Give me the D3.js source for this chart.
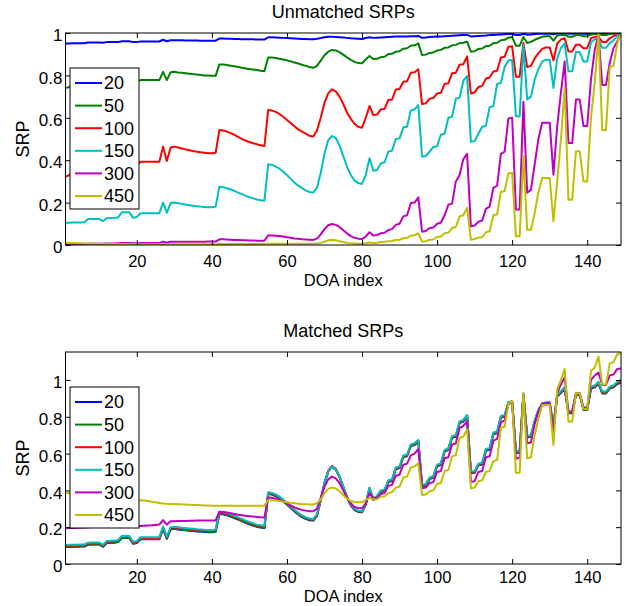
<!DOCTYPE html>
<html>
<head>
<meta charset="utf-8">
<script src="https://cdn.jsdelivr.net/npm/d3@7"></script>
<style>
  body { margin: 0; background: #fff; }
  svg { display: block; font-family: "Liberation Sans", Arial, Helvetica, sans-serif; }
</style>
</head>
<body>
<div id="chart"></div>
<script>
// DOA index runs 1..149
const doaIndex = d3.range(1, 150);
const seriesNames = ["20", "50", "100", "150", "300", "450"];
const seriesColors = ["#0000ff", "#008000", "#ff0000", "#00bfbf", "#bf00bf", "#bfbf00"];
const yTicks = [0, 0.2, 0.4, 0.6, 0.8, 1];
const xTicks = [20, 40, 60, 80, 100, 120, 140];

// ---- Unmatched SRPs ----
const unmatched20 = [
  .951,.951,.952,.952,.952,.952,.955,.955,.955,.955,
  .954,.957,.957,.957,.957,.961,.961,.961,.957,.957,
  .960,.960,.960,.960,.960,.960,.968,.961,.966,.966,
  .966,.966,.965,.965,.965,.965,.964,.964,.964,.964,
  .964,.974,.974,.973,.973,.972,.972,.971,.971,.970,
  .970,.969,.969,.969,.980,.980,.979,.978,.977,.976,
  .975,.974,.973,.972,.972,.971,.971,.973,.976,.980,
  .982,.982,.981,.980,.979,.977,.975,.974,.973,.972,
  .976,.980,.977,.978,.979,.980,.981,.982,.983,.983,
  .984,.984,.985,.985,.986,.977,.979,.981,.982,.983,
  .984,.985,.986,.987,.988,.989,.990,.991,.984,.985,
  .986,.987,.988,.990,.991,.992,.993,.994,.995,.995,
  .990,.990,.996,.992,.993,.995,.996,.997,.997,.997,
  .994,.998,.998,.999,.996,.996,.998,.998,.997,.997,
  .999,.999,.999,.997,.997,.999,.999,1,1
];
const unmatched50 = [
  .740,.745,.748,.750,.752,.754,.760,.761,.762,.763,
  .760,.765,.766,.767,.768,.778,.779,.778,.768,.770,
  .778,.778,.778,.778,.778,.778,.817,.778,.815,.817,
  .814,.812,.810,.808,.806,.804,.802,.800,.799,.798,
  .798,.852,.851,.849,.846,.843,.840,.836,.833,.830,
  .828,.825,.822,.820,.885,.884,.882,.879,.875,.871,
  .866,.861,.856,.850,.845,.840,.836,.845,.870,.895,
  .912,.920,.918,.910,.898,.885,.873,.864,.858,.857,
  .875,.892,.877,.878,.886,.888,.900,.902,.912,.914,
  .926,.928,.940,.942,.951,.896,.898,.906,.908,.918,
  .920,.930,.932,.942,.944,.952,.954,.959,.912,.914,
  .925,.927,.938,.940,.952,.954,.966,.968,.978,.981,
  .940,.940,.981,.953,.958,.968,.975,.982,.985,.985,
  .964,.988,.990,.992,.982,.982,.990,.990,.985,.985,
  .993,.995,.995,.990,.990,.995,.997,.999,1
];
const unmatched100 = [
  .322,.330,.335,.340,.345,.348,.358,.360,.362,.363,
  .358,.366,.368,.370,.372,.385,.386,.386,.372,.376,
  .393,.393,.393,.393,.393,.393,.464,.396,.460,.464,
  .460,.455,.451,.447,.443,.440,.437,.435,.433,.433,
  .435,.542,.540,.535,.528,.520,.510,.500,.492,.486,
  .480,.475,.470,.467,.637,.634,.628,.618,.605,.590,
  .575,.560,.545,.535,.525,.515,.512,.540,.600,.670,
  .715,.734,.725,.700,.665,.625,.595,.572,.558,.553,
  .600,.656,.613,.615,.640,.642,.684,.686,.734,.736,
  .770,.772,.813,.815,.829,.665,.668,.690,.693,.715,
  .718,.760,.763,.810,.813,.850,.853,.890,.715,.720,
  .745,.750,.785,.790,.818,.822,.885,.888,.935,.937,
  .794,.794,.953,.840,.845,.880,.905,.925,.932,.932,
  .870,.950,.970,.975,.913,.913,.945,.945,.928,.928,
  .975,.982,.982,.958,.958,.975,.985,.995,1
];
const unmatched150 = [
  .105,.105,.106,.106,.106,.107,.123,.123,.123,.123,
  .113,.126,.127,.128,.130,.154,.155,.154,.129,.132,
  .150,.150,.150,.150,.150,.150,.200,.152,.198,.200,
  .197,.194,.191,.188,.185,.183,.181,.179,.178,.178,
  .180,.275,.273,.268,.262,.255,.247,.240,.232,.225,
  .220,.215,.211,.209,.381,.378,.370,.360,.345,.330,
  .312,.295,.280,.268,.258,.250,.247,.270,.340,.430,
  .495,.514,.505,.470,.420,.370,.330,.305,.292,.288,
  .330,.409,.350,.354,.385,.390,.440,.445,.500,.503,
  .555,.558,.635,.640,.660,.417,.420,.440,.462,.466,
  .520,.525,.600,.605,.690,.695,.775,.797,.487,.490,
  .525,.558,.562,.650,.655,.760,.765,.840,.870,.873,
  .607,.607,.943,.686,.700,.780,.830,.865,.874,.874,
  .741,.880,.930,.951,.819,.819,.910,.910,.866,.866,
  .955,.970,.970,.930,.930,.951,.965,.985,1
];
const unmatched300 = [
  .003,.003,.004,.004,.004,.005,.006,.006,.006,.006,
  .006,.007,.007,.007,.008,.009,.009,.009,.008,.008,
  .010,.010,.010,.010,.010,.010,.016,.011,.015,.015,
  .015,.015,.015,.015,.015,.015,.015,.015,.016,.016,
  .016,.027,.027,.026,.025,.024,.024,.023,.022,.021,
  .021,.020,.020,.020,.046,.045,.044,.042,.040,.037,
  .034,.031,.029,.027,.026,.025,.024,.030,.050,.075,
  .093,.099,.095,.085,.070,.055,.042,.034,.030,.028,
  .040,.060,.045,.047,.055,.058,.070,.075,.095,.100,
  .135,.140,.198,.200,.225,.063,.066,.080,.082,.100,
  .105,.140,.190,.195,.300,.330,.405,.430,.088,.092,
  .110,.115,.170,.181,.270,.280,.430,.440,.597,.600,
  .168,.168,.676,.247,.260,.380,.500,.577,.577,.577,
  .332,.560,.720,.866,.481,.481,.686,.686,.561,.561,
  .780,.920,.990,.755,.755,.860,.928,.960,1
];
const unmatched450 = [
  .011,.010,.009,.008,.008,.007,.007,.007,.006,.006,
  .006,.006,.005,.005,.005,.005,.005,.005,.004,.004,
  .004,.004,.004,.004,.004,.004,.005,.004,.004,.004,
  .004,.004,.004,.004,.004,.004,.004,.004,.004,.004,
  .004,.005,.005,.005,.005,.005,.005,.005,.005,.005,
  .005,.005,.005,.005,.006,.006,.006,.006,.006,.006,
  .006,.006,.006,.006,.006,.006,.006,.007,.010,.016,
  .022,.024,.022,.018,.014,.010,.008,.007,.006,.006,
  .008,.012,.010,.011,.014,.015,.018,.019,.024,.025,
  .032,.034,.044,.046,.055,.017,.018,.025,.026,.038,
  .040,.055,.058,.080,.085,.135,.140,.175,.025,.028,
  .035,.036,.060,.065,.140,.145,.250,.255,.338,.340,
  .041,.041,.420,.072,.072,.150,.250,.316,.316,.316,
  .112,.300,.500,.740,.214,.214,.442,.442,.300,.300,
  .600,.763,.995,.542,.542,.840,.845,.950,1
];

// ---- Matched SRPs ----
const matched20 = [
  .092,.093,.094,.094,.095,.095,.105,.106,.106,.106,
  .094,.114,.115,.116,.119,.141,.142,.141,.110,.114,
  .134,.134,.134,.134,.134,.134,.191,.137,.188,.191,
  .188,.185,.183,.181,.179,.177,.176,.174,.173,.173,
  .175,.272,.270,.265,.258,.250,.241,.233,.224,.216,
  .209,.202,.198,.195,.380,.377,.369,.357,.341,.323,
  .304,.286,.269,.255,.245,.238,.236,.262,.345,.437,
  .503,.528,.513,.472,.416,.360,.319,.293,.283,.281,
  .322,.407,.348,.361,.391,.396,.446,.451,.516,.521,
  .581,.586,.641,.647,.665,.420,.426,.461,.469,.531,
  .538,.611,.620,.686,.692,.766,.774,.801,.493,.496,
  .536,.541,.616,.621,.706,.711,.796,.801,.871,.876,
  .605,.605,.919,.688,.691,.771,.831,.861,.870,.870,
  .746,.910,.930,.950,.819,.819,.918,.918,.837,.837,
  .954,.960,.980,.927,.927,.954,.960,.978,.985
];
const matched50 = [
  .094,.095,.096,.096,.097,.097,.107,.108,.108,.108,
  .096,.116,.117,.118,.121,.143,.144,.143,.112,.116,
  .136,.136,.136,.136,.136,.136,.193,.139,.190,.193,
  .190,.187,.185,.183,.181,.179,.178,.176,.175,.175,
  .177,.274,.272,.267,.260,.252,.243,.235,.226,.218,
  .211,.204,.200,.197,.382,.379,.371,.359,.343,.325,
  .306,.288,.271,.257,.247,.240,.238,.264,.347,.439,
  .505,.530,.515,.474,.418,.362,.321,.295,.285,.283,
  .324,.409,.350,.363,.393,.398,.448,.453,.518,.523,
  .583,.588,.643,.649,.667,.422,.428,.463,.471,.533,
  .540,.613,.622,.688,.694,.768,.776,.803,.495,.498,
  .538,.543,.618,.623,.708,.713,.798,.803,.873,.878,
  .607,.607,.921,.690,.693,.773,.833,.863,.872,.872,
  .748,.912,.932,.952,.821,.821,.920,.920,.839,.839,
  .956,.962,.982,.929,.929,.956,.962,.980,.987
];
const matched100 = [
  .099,.100,.101,.101,.102,.102,.112,.113,.113,.113,
  .100,.121,.122,.123,.126,.148,.149,.148,.117,.121,
  .141,.141,.141,.141,.141,.141,.199,.144,.196,.199,
  .196,.193,.191,.189,.187,.185,.184,.182,.181,.181,
  .183,.280,.278,.273,.266,.258,.249,.241,.232,.224,
  .217,.210,.206,.203,.387,.383,.375,.363,.347,.329,
  .310,.292,.275,.261,.251,.244,.242,.268,.349,.441,
  .507,.532,.517,.476,.420,.364,.323,.297,.287,.285,
  .327,.413,.354,.367,.397,.402,.452,.457,.522,.527,
  .587,.592,.647,.653,.671,.426,.432,.467,.475,.537,
  .544,.617,.626,.692,.698,.772,.780,.807,.499,.502,
  .542,.547,.622,.627,.712,.717,.802,.807,.877,.882,
  .611,.611,.925,.694,.697,.777,.837,.867,.877,.877,
  .752,.916,.936,.956,.825,.825,.924,.924,.843,.843,
  .960,.966,.986,.933,.933,.960,.966,.984,.992
];
const matched150 = [
  .103,.104,.105,.105,.106,.106,.116,.117,.117,.117,
  .104,.125,.126,.127,.130,.152,.153,.152,.121,.125,
  .145,.145,.145,.145,.145,.145,.203,.148,.200,.203,
  .200,.197,.195,.193,.191,.189,.188,.186,.185,.185,
  .187,.284,.282,.277,.270,.262,.253,.245,.236,.228,
  .221,.214,.210,.207,.390,.386,.378,.366,.350,.332,
  .313,.295,.278,.264,.254,.247,.245,.270,.350,.440,
  .505,.529,.515,.475,.420,.365,.325,.300,.290,.288,
  .330,.415,.357,.370,.400,.405,.455,.460,.525,.530,
  .590,.595,.650,.656,.674,.429,.435,.470,.478,.540,
  .547,.620,.629,.695,.701,.775,.783,.810,.502,.505,
  .545,.550,.625,.630,.715,.720,.805,.810,.880,.885,
  .614,.614,.928,.697,.700,.780,.840,.870,.879,.879,
  .755,.920,.940,.960,.828,.828,.928,.928,.846,.846,
  .964,.970,.990,.937,.937,.964,.970,.990,1
];
const matched300 = [
  .194,.195,.196,.197,.198,.199,.200,.201,.202,.203,
  .203,.204,.205,.205,.206,.207,.207,.207,.206,.206,
  .207,.208,.209,.210,.212,.214,.239,.214,.232,.232,
  .233,.234,.234,.235,.235,.236,.236,.236,.237,.237,
  .237,.284,.283,.280,.276,.272,.268,.265,.262,.260,
  .258,.256,.254,.253,.362,.360,.355,.348,.340,.330,
  .318,.308,.300,.294,.290,.287,.287,.300,.360,.420,
  .460,.475,.465,.440,.400,.360,.330,.310,.304,.303,
  .330,.385,.355,.360,.380,.385,.425,.430,.480,.485,
  .540,.545,.590,.600,.625,.411,.415,.440,.445,.500,
  .505,.575,.580,.650,.655,.740,.750,.775,.447,.450,
  .500,.505,.580,.585,.670,.680,.770,.780,.870,.885,
  .574,.574,.918,.656,.660,.760,.830,.873,.873,.873,
  .723,.930,.976,1.015,.828,.828,.928,.928,.850,.850,
  1.000,1.024,1.040,.973,.973,1.025,1.030,1.060,1.063
];
const matched450 = [
  .388,.386,.383,.380,.377,.374,.371,.368,.365,.362,
  .360,.358,.356,.354,.352,.351,.350,.349,.348,.348,
  .347,.345,.342,.338,.335,.332,.329,.327,.326,.326,
  .325,.324,.323,.322,.321,.320,.319,.318,.318,.317,
  .317,.317,.317,.317,.317,.317,.317,.317,.317,.317,
  .317,.317,.317,.317,.348,.347,.345,.342,.339,.336,
  .333,.330,.328,.326,.325,.324,.324,.330,.350,.385,
  .408,.415,.410,.395,.375,.355,.342,.337,.335,.335,
  .348,.360,.350,.352,.365,.368,.385,.390,.415,.420,
  .470,.475,.525,.530,.547,.375,.378,.395,.400,.435,
  .440,.505,.511,.585,.592,.685,.692,.732,.411,.415,
  .450,.455,.500,.505,.560,.565,.740,.746,.870,.886,
  .496,.496,.928,.574,.580,.700,.790,.864,.864,.864,
  .647,.950,1.000,1.060,.774,.774,.928,.928,.841,.841,
  1.050,1.067,1.127,.976,.976,1.090,1.096,1.140,1.145
];

const width = 635, height = 606;
const svg = d3.select("#chart").append("svg")
  .attr("width", width)
  .attr("height", height);

const x = d3.scaleLinear().domain([1, 149]).range([65.5, 621]);

function drawPanel(opts) {
  const top = opts.top, bottom = opts.top + 212;
  const left = x.range()[0], right = x.range()[1];
  const y = d3.scaleLinear().domain([0, opts.yMax]).range([bottom, top]);
  const g = svg.append("g");

  // clip so nothing leaks over the box
  const clipId = "clip" + opts.id;
  g.append("clipPath").attr("id", clipId)
    .append("rect")
    .attr("x", left).attr("y", top)
    .attr("width", right - left).attr("height", bottom - top);

  const line = d3.line()
    .x((d, i) => x(doaIndex[i]))
    .y(d => y(d));

  g.append("g").attr("clip-path", `url(#${clipId})`)
    .selectAll("path")
    .data(opts.series)
    .join("path")
    .attr("d", d => line(d))
    .attr("fill", "none")
    .attr("stroke", (d, i) => seriesColors[i])
    .attr("stroke-width", 2)
    .attr("stroke-linejoin", "round");

  // axes, ticks point inward on all four sides
  const xAxis = g.append("g")
    .attr("transform", `translate(0,${bottom})`)
    .call(d3.axisBottom(x).tickValues(xTicks).tickSizeInner(-5).tickSizeOuter(0).tickPadding(opts.xPad));
  g.append("g")
    .attr("transform", `translate(0,${top})`)
    .call(d3.axisTop(x).tickValues(xTicks).tickSizeInner(-5).tickSizeOuter(0).tickFormat(""));
  const yAxis = g.append("g")
    .attr("transform", `translate(${left},0)`)
    .call(d3.axisLeft(y).tickValues(yTicks).tickSizeInner(-5).tickSizeOuter(0).tickPadding(3)
      .tickFormat(d => d3.format("~g")(d)));
  g.append("g")
    .attr("transform", `translate(${right},0)`)
    .call(d3.axisRight(y).tickValues(yTicks).tickSizeInner(-5).tickSizeOuter(0).tickFormat(""));

  g.selectAll(".domain").remove();
  g.selectAll(".tick line").attr("stroke", "#000");
  xAxis.selectAll("text").attr("font-size", 16.5).attr("fill", "#000");
  yAxis.selectAll("text").attr("font-size", 17).attr("fill", "#000").attr("dy", "0.45em");

  g.append("rect")
    .attr("x", left).attr("y", top)
    .attr("width", right - left).attr("height", bottom - top)
    .attr("fill", "none").attr("stroke", "#000").attr("stroke-width", 1);

  // title and labels
  const cx = (left + right) / 2;
  g.append("text").attr("x", cx).attr("y", top - 15)
    .attr("text-anchor", "middle").attr("font-size", 18).text(opts.title);
  g.append("text").attr("x", cx).attr("y", bottom + opts.labelGap)
    .attr("text-anchor", "middle").attr("font-size", 16.5).text("DOA index");
  g.append("text")
    .attr("transform", `translate(29,${(top + bottom) / 2}) rotate(-90)`)
    .attr("text-anchor", "middle").attr("font-size", 18).text("SRP");

  // legend
  const lx = left + 4.5, ly = top + 35;
  const legend = g.append("g").attr("transform", `translate(${lx},${ly})`);
  legend.append("rect")
    .attr("width", 69).attr("height", 141)
    .attr("fill", "#fff").attr("stroke", "#000").attr("stroke-width", 1);
  const item = legend.selectAll("g.item")
    .data(seriesNames)
    .join("g")
    .attr("class", "item")
    .attr("transform", (d, i) => `translate(0,${15 + i * 22.6})`);
  item.append("line")
    .attr("x1", 5).attr("x2", 32)
    .attr("stroke", (d, i) => seriesColors[i])
    .attr("stroke-width", 2);
  item.append("text")
    .attr("x", 34).attr("dy", "0.36em")
    .attr("font-size", 18)
    .text(d => d);
}

drawPanel({
  id: "a", top: 33, yMax: 1, title: "Unmatched SRPs", xPad: 10, labelGap: 40.5,
  series: [unmatched20, unmatched50, unmatched100, unmatched150, unmatched300, unmatched450]
});
drawPanel({
  id: "b", top: 352, yMax: 1.152, title: "Matched SRPs", xPad: 7.5, labelGap: 38,
  series: [matched20, matched50, matched100, matched150, matched300, matched450]
});
</script>
</body>
</html>
